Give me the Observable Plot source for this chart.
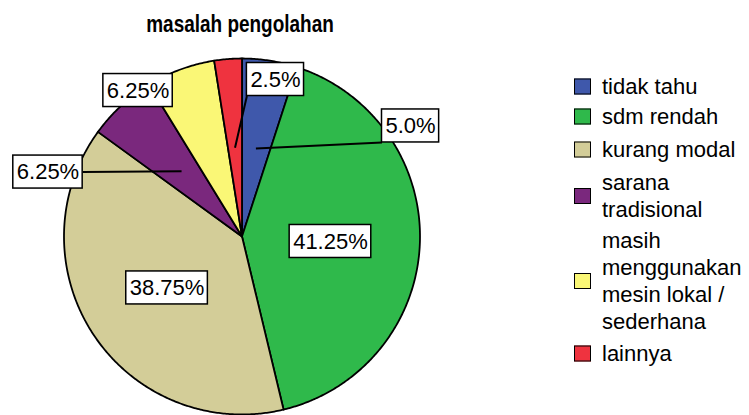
<!DOCTYPE html>
<html><head><meta charset="utf-8">
<script src="https://cdn.jsdelivr.net/npm/d3@7"></script>
<script src="https://cdn.jsdelivr.net/npm/@observablehq/plot@0.6"></script>
<style>
body{margin:0;background:#fff;font-family:"Liberation Sans",Arial,sans-serif;color:#000;}
#wrap{position:relative;width:749px;height:415px;overflow:hidden;background:#fff;}
#title{position:absolute;left:0;width:480px;top:12px;text-align:center;font-family:"Liberation Sans",Arial,sans-serif;font-weight:bold;font-size:24px;line-height:24px;white-space:nowrap;transform:scaleX(0.79);transform-origin:240px 50%;}
#chart{position:absolute;left:0;top:45px;}
.leg{position:absolute;left:574px;display:flex;align-items:center;transform:translateY(-50%);font-size:22px;line-height:27px;white-space:nowrap;}
.sw{width:15px;height:14px;border:1.5px solid #000;margin-right:11px;flex:none;}
</style></head>
<body>
<div id="wrap">
  <div id="title">masalah pengolahan</div>
  <div id="chart"></div>
</div>
<script>
// ---- data ----
const categories = ["tidak tahu", "sdm rendah", "kurang modal", "sarana tradisional", "masih menggunakan mesin lokal / sederhana", "lainnya"];
const percents = [5.0, 41.25, 38.75, 6.25, 6.25, 2.5];
const percentLabels = ["5.0%", "41.25%", "38.75%", "6.25%", "6.25%", "2.5%"];
const legendLines = [["tidak tahu"], ["sdm rendah"], ["kurang modal"], ["sarana", "tradisional"], ["masih", "menggunakan", "mesin lokal /", "sederhana"], ["lainnya"]];
const colors = ["#3F58AB", "#2FB94B", "#D3CD98", "#7A287D", "#FAF776", "#EF333F"];

// ---- layout ----
const cx = 241.5, cy = 191, R = 178;
const labelX = [0.947, 0.497, -0.421, -1.090, -0.584, 0.188];
const labelY = [0.621, -0.028, -0.289, 0.362, 0.820, 0.882];
const hasLeader = [true, false, false, true, false, true];
const legendCenters = [86, 116, 149, 196, 281, 353];

const pie = d3.pie().sort(null).value(d => d)(percents);
const slicePts = [];
categories.forEach((c, i) => {
  const a0 = pie[i].startAngle, a1 = pie[i].endAngle;
  slicePts.push({cat: c, x: 0, y: 0});
  const n = Math.max(2, Math.ceil((a1 - a0) / (Math.PI / 360)));
  for (let k = 0; k <= n; k++) {
    const a = a0 + (a1 - a0) * k / n;
    slicePts.push({cat: c, x: Math.sin(a), y: Math.cos(a)});
  }
  slicePts.push({cat: c, x: 0, y: 0});
});

const ctx = document.createElement("canvas").getContext("2d");
ctx.font = "22px 'Liberation Sans'";
const boxes = categories.map((c, i) => {
  const w = ctx.measureText(percentLabels[i]).width;
  const hw = (w / 2 + 3.5) / R, hh = 16.5 / R;
  return {cat: c, label: percentLabels[i], x: labelX[i], y: labelY[i],
    x1: labelX[i] - hw, x2: labelX[i] + hw, y1: labelY[i] - hh, y2: labelY[i] + hh};
});

const links = [];
categories.forEach((c, i) => {
  if (!hasLeader[i]) return;
  const mid = (pie[i].startAngle + pie[i].endAngle) / 2;
  const px = 0.5 * Math.sin(mid), py = 0.5 * Math.cos(mid);
  const b = boxes[i];
  const cand = [];
  for (const ax of [b.x1, b.x, b.x2]) for (const ay of [b.y1, b.y, b.y2]) {
    if (ax === b.x && ay === b.y) continue;
    cand.push([ax, ay]);
  }
  let best = cand[0], bd = Infinity;
  for (const p of cand) { const d = Math.hypot(p[0] - px, p[1] - py); if (d < bd) { bd = d; best = p; } }
  links.push({x1: px, y1: py, x2: best[0], y2: best[1]});
});

const chart = Plot.plot({
  width: 749, height: 370, margin: 0,
  style: {fontFamily: "'Liberation Sans', Arial, sans-serif", background: "white", overflow: "visible"},
  x: {domain: [-1, 1], range: [cx - R, cx + R], axis: null},
  y: {domain: [-1, 1], range: [cy + R, cy - R], axis: null},
  color: {domain: categories, range: colors},
  marks: [
    Plot.line(slicePts, {x: "x", y: "y", z: "cat", fill: "cat", stroke: "#000", strokeWidth: 1.8, strokeLinejoin: "round"}),
    Plot.link(links, {x1: "x1", y1: "y1", x2: "x2", y2: "y2", stroke: "#000", strokeWidth: 2}),
    Plot.rect(boxes, {x1: "x1", x2: "x2", y1: "y1", y2: "y2", fill: "#fff", stroke: "#000", strokeWidth: 1.5}),
    Plot.text(boxes, {x: "x", y: "y", text: "label", fontSize: 22, fill: "#000"})
  ]
});
document.getElementById("chart").appendChild(chart);

const wrap = document.getElementById("wrap");
categories.forEach((c, i) => {
  const item = document.createElement("div");
  item.className = "leg";
  item.style.top = legendCenters[i] + "px";
  const sw = document.createElement("div");
  sw.className = "sw";
  sw.style.background = colors[i];
  const tx = document.createElement("div");
  tx.innerHTML = legendLines[i].join("<br>");
  item.appendChild(sw); item.appendChild(tx);
  wrap.appendChild(item);
});
</script>
</body></html>
